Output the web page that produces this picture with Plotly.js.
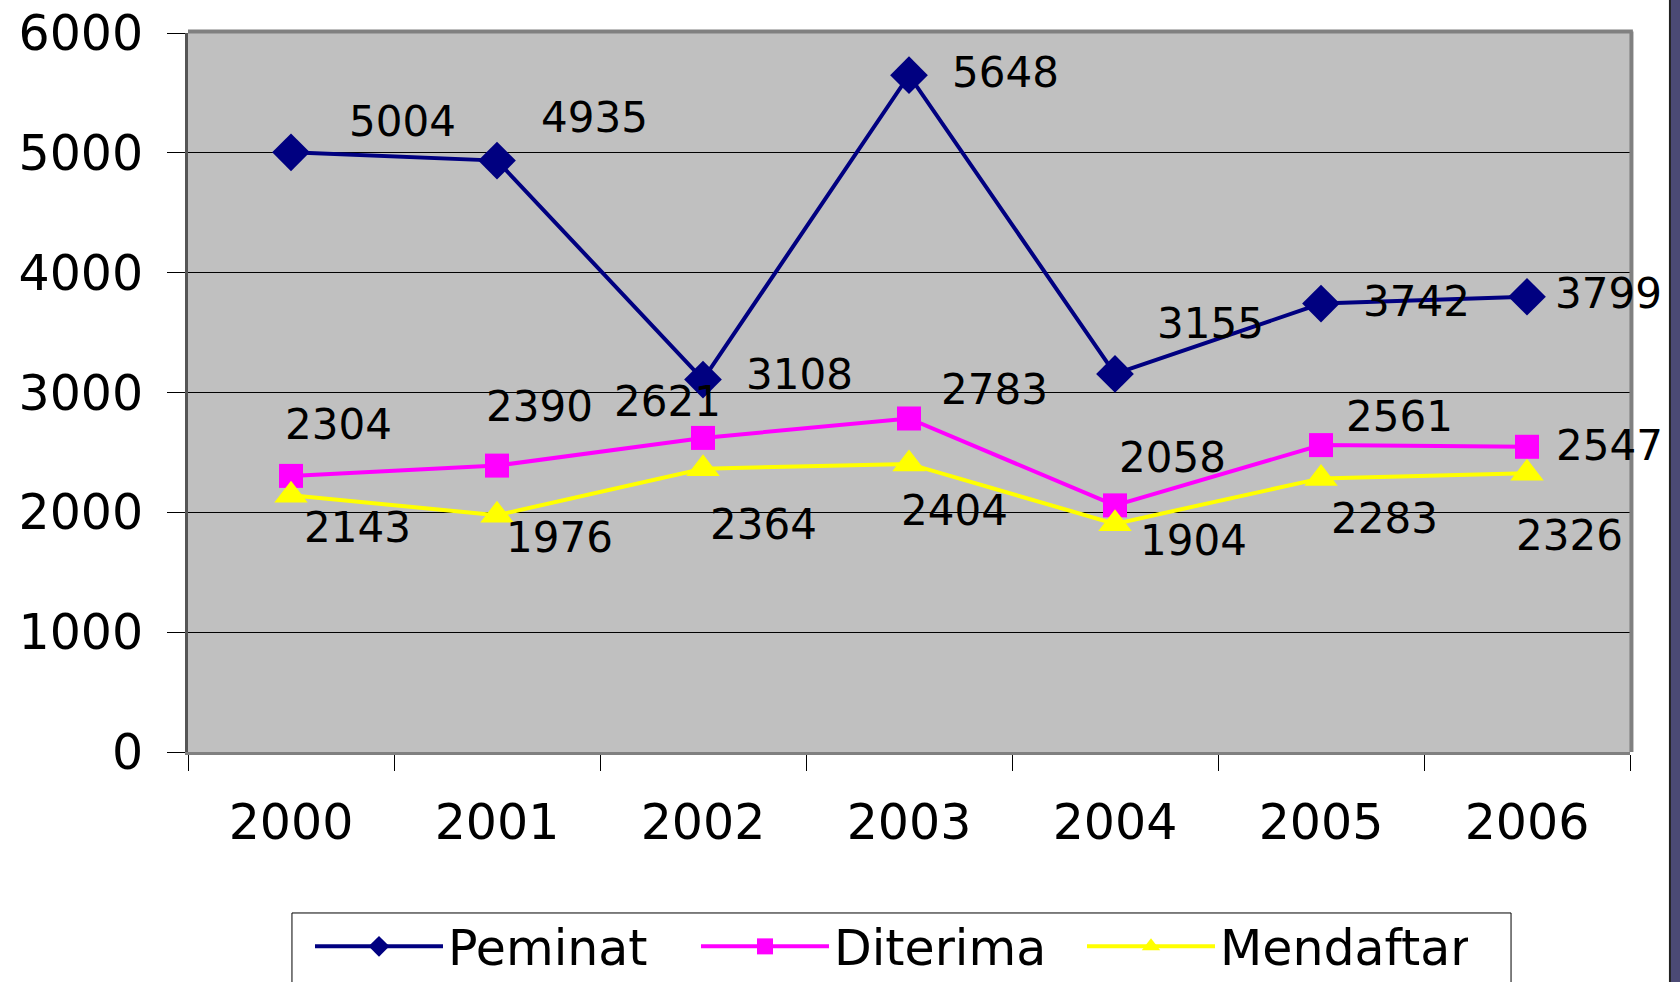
<!DOCTYPE html>
<html>
<head>
<meta charset="utf-8">
<script src="https://cdn.plot.ly/plotly-3.0.1.min.js"></script>
<style>html,body{margin:0;padding:0;background:#fff;}#chart{width:1680px;height:982px;}</style>
</head>
<body>
<div id="chart"></div>
<script>
// ---- data ----
const years = ['2000', '2001', '2002', '2003', '2004', '2005', '2006'];
const peminat = [5004, 4935, 3108, 5648, 3155, 3742, 3799];
const diterima = [2304, 2390, 2621, 2783, 2058, 2561, 2547];
const mendaftar = [2143, 1976, 2364, 2404, 1904, 2283, 2326];
const seriesNames = ['Peminat', 'Diterima', 'Mendaftar'];
const yTicks = [0, 1000, 2000, 3000, 4000, 5000, 6000];

// ---- label offsets (px) ----
const shiftPeminat = [[111, 31], [97, 43], [96, 5], [96, 3], [95, 50], [95, 2], [81, 3]];
const shiftDiterima = [[47, 51], [42, 59], [-36, 36], [85, 29], [57, 48], [78, 29], [82, 1]];
const shiftMendaftar = [[66, -32], [62, -22], [60, -56], [45, -47], [78, -17], [63, -40], [42, -62]];

const FONT = 'DejaVu Sans, Liberation Sans, Arial, sans-serif';

const series = [
  {name: seriesNames[0], y: peminat, color: '#000080', symbol: 'diamond', size: 29, shifts: shiftPeminat},
  {name: seriesNames[1], y: diterima, color: '#FF00FF', symbol: 'square', size: 24, shifts: shiftDiterima},
  {name: seriesNames[2], y: mendaftar, color: '#FFFF00', symbol: 'triangle-up', size: 29, shifts: shiftMendaftar}
];

const traces = series.map(s => ({
  type: 'scatter',
  mode: 'lines+markers',
  name: s.name,
  x: years,
  y: s.y,
  line: {color: s.color, width: 4},
  marker: {color: s.color, symbol: s.symbol, size: s.size, line: {width: 0}},
  cliponaxis: false
}));

const annotations = [];
series.forEach(s => {
  s.y.forEach((v, i) => {
    annotations.push({
      x: i, y: v, xref: 'x', yref: 'y',
      text: String(v), showarrow: false,
      xshift: s.shifts[i][0], yshift: s.shifts[i][1],
      font: {family: FONT, size: 42, color: '#000'}
    });
  });
});

const layout = {
  width: 1680, height: 982,
  margin: {l: 188, r: 50, t: 33, b: 230, autoexpand: false},
  paper_bgcolor: '#ffffff',
  plot_bgcolor: '#c0c0c0',
  font: {family: FONT, color: '#000'},
  showlegend: true,
  legend: {
    orientation: 'h',
    x: 0.0846, xanchor: 'left',
    y: -0.217, yanchor: 'top',
    bgcolor: 'rgba(0,0,0,0)', borderwidth: 0,
    font: {family: FONT, size: 49, color: '#000'},
    itemwidth: 128,
    entrywidth: 243, entrywidthmode: 'pixels'
  },
  xaxis: {
    type: 'category',
    range: [-0.5, 6.5],
    tickson: 'boundaries',
    ticks: 'outside', ticklen: 16, tickwidth: 1, tickcolor: '#000',
    showline: true, linecolor: '#808080', linewidth: 3,
    showgrid: false, zeroline: false,
    tickfont: {family: FONT, size: 49, color: '#000'},
    ticklabelstandoff: 25
  },
  yaxis: {
    range: [0, 6000],
    tickvals: yTicks,
    ticktext: yTicks.map(String),
    ticks: 'outside', ticklen: 18, tickwidth: 1, tickcolor: '#000',
    showline: true, linecolor: '#555555', linewidth: 3,
    showgrid: true, gridcolor: '#000000', gridwidth: 1,
    zeroline: false,
    tickfont: {family: FONT, size: 49, color: '#000'},
    ticklabelstandoff: 14
  },
  shapes: [
    {type: 'line', xref: 'paper', yref: 'paper', x0: 0, x1: 1.002, y0: 1.002, y1: 1.002, line: {color: '#808080', width: 4}},
    {type: 'line', xref: 'paper', yref: 'paper', x0: 1.001, x1: 1.001, y0: 0, y1: 1.002, line: {color: '#808080', width: 4}},
    {type: 'rect', xref: 'paper', yref: 'paper', x0: 1.0277, x1: 1.05, y0: -0.4, y1: 1.1, fillcolor: '#4b4a75', line: {width: 0}},
    {type: 'line', xref: 'paper', yref: 'paper', x0: 1.0277, x1: 1.0277, y0: -0.4, y1: 1.1, line: {color: '#222222', width: 2}},
    {type: 'rect', xref: 'paper', yref: 'paper', x0: 0.0721, x1: 0.9175, y0: -0.2239, y1: -0.36, fillcolor: '#ffffff', line: {color: '#000000', width: 1}}
  ],
  annotations: annotations
};

Plotly.newPlot('chart', traces, layout, {displayModeBar: false, staticPlot: true});
</script>
</body>
</html>
